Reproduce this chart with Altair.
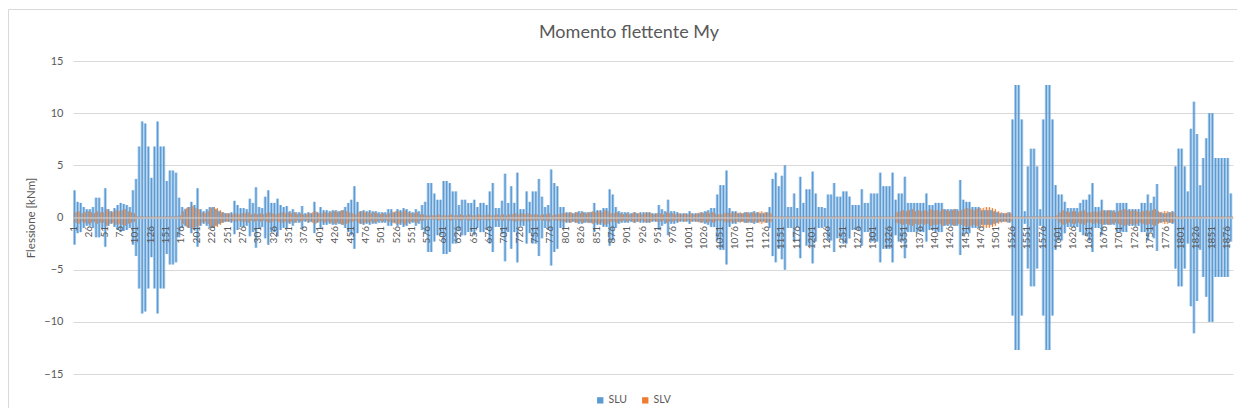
import altair as alt
import pandas as pd

N_CAT = 1886
BLOCK = 5  # categories summarised by one value (envelope)

# SLU envelope (|My| in kNm), one value per block of 5 categories
slu = [
    2.6, 1.5, 1.4, 1.0, 0.8,    # 1
    0.8, 1.0, 1.9, 1.9, 1.0,    # 26
    2.8, 0.8, 0.6, 0.9, 1.2,    # 51
    1.4, 1.3, 1.2, 1.0, 2.6,    # 76
    3.7, 6.8, 9.2, 9.0, 6.8,    # 101
    3.8, 6.8, 9.2, 6.8, 6.8,    # 126
    3.5, 4.5, 4.5, 4.3, 1.9,    # 151
    1.0, 0.8, 1.0, 1.5, 1.2,    # 176
    2.8, 0.8, 0.6, 0.8, 1.0,    # 201
    1.0, 0.8, 0.6, 0.5, 0.4,    # 226
    0.4, 0.5, 1.6, 1.2, 0.9,    # 251
    0.9, 0.8, 1.8, 1.4, 2.9,    # 276
    1.0, 0.9, 2.0, 2.6, 1.4,    # 301
    1.4, 1.8, 1.2, 1.0, 1.1,    # 326
    0.6, 0.8, 0.5, 0.5, 1.1,    # 351
    0.4, 0.5, 0.4, 1.5, 0.5,    # 376
    1.0, 0.7, 0.7, 0.6, 0.7,    # 401
    0.7, 0.6, 0.7, 1.0, 1.4,    # 426
    1.7, 3.0, 1.5, 0.6, 0.7,    # 451
    0.6, 0.7, 0.6, 0.6, 0.5,    # 476
    0.5, 0.5, 0.8, 0.8, 0.5,    # 501
    0.8, 0.7, 0.9, 0.8, 0.6,    # 526
    0.5, 0.8, 0.6, 1.2, 1.5,    # 551
    3.3, 3.3, 2.3, 1.7, 1.7,    # 576
    3.5, 3.5, 3.3, 2.5, 2.5,    # 601
    1.2, 1.7, 1.7, 1.4, 1.4,    # 626
    1.7, 1.0, 1.4, 1.4, 1.2,    # 651
    2.5, 3.3, 0.9, 0.9, 1.6,    # 676
    4.2, 1.4, 3.0, 1.4, 4.3,    # 701
    0.8, 0.8, 2.5, 1.5, 2.5,    # 726
    2.5, 3.7, 2.0, 1.0, 1.2,    # 751
    4.6, 3.3, 3.0, 1.0, 1.0,    # 776
    0.5, 0.5, 0.4, 0.5, 0.6,    # 801
    0.6, 0.5, 0.5, 0.5, 1.4,    # 826
    0.7, 0.7, 0.9, 0.9, 2.7,    # 851
    2.2, 1.0, 0.6, 0.5, 0.5,    # 876
    0.5, 0.4, 0.5, 0.4, 0.5,    # 901
    0.5, 0.5, 0.5, 0.4, 0.4,    # 926
    1.2, 0.8, 0.6, 1.7, 0.6,    # 951
    0.6, 0.5, 0.4, 0.4, 0.4,    # 976
    0.6, 0.4, 0.4, 0.4, 0.5,    # 1001
    0.6, 0.7, 0.9, 0.9, 2.2,    # 1026
    3.1, 3.1, 4.5, 0.9, 0.6,    # 1051
    0.6, 0.4, 0.4, 0.5, 0.5,    # 1076
    0.5, 0.6, 0.5, 0.4, 0.4,    # 1101
    0.5, 1.0, 3.7, 4.3, 3.0,    # 1126
    4.0, 5.0, 1.0, 1.0, 2.3,    # 1151
    0.9, 3.9, 1.4, 2.7, 2.7,    # 1176
    4.4, 2.3, 1.0, 1.0, 0.9,    # 1201
    2.2, 2.2, 3.3, 2.0, 2.0,    # 1226
    2.5, 2.5, 2.0, 1.2, 1.2,    # 1251
    1.2, 2.7, 1.4, 1.4, 2.3,    # 1276
    2.3, 2.3, 4.3, 3.0, 3.0,    # 1301
    3.0, 4.3, 1.7, 2.3, 2.3,    # 1326
    3.9, 1.4, 1.4, 1.4, 1.4,    # 1351
    1.4, 1.4, 2.3, 1.2, 1.2,    # 1376
    1.4, 1.4, 1.4, 0.8, 0.8,    # 1401
    0.8, 0.8, 0.8, 3.6, 1.7,    # 1426
    1.5, 1.5, 1.0, 1.0, 1.0,    # 1451
    0.7, 0.7, 0.7, 0.7, 0.6,    # 1476
    0.5, 0.4, 0.4, 0.4, 0.5,    # 1501
    9.4, 12.7, 12.7, 9.4, 0.6,  # 1526
    4.9, 6.6, 6.6, 4.9, 0.8,    # 1551
    9.4, 12.7, 12.7, 9.4, 3.1,  # 1576
    2.2, 2.2, 1.5, 0.9, 0.9,    # 1601
    0.9, 0.9, 1.4, 1.7, 1.7,    # 1626
    2.2, 3.3, 1.0, 1.0, 1.7,    # 1651
    0.7, 0.7, 0.7, 0.7, 1.4,    # 1676
    1.4, 1.4, 1.4, 0.8, 0.8,    # 1701
    0.8, 0.8, 1.4, 1.4, 2.2,    # 1726
    1.4, 2.0, 3.2, 0.5, 0.4,    # 1751
    0.4, 0.5, 0.6, 4.9, 6.6,    # 1776
    6.6, 4.9, 2.5, 8.5, 11.1,   # 1801
    8.0, 3.1, 5.7, 7.6, 10.0,   # 1826
    10.0, 5.7, 5.7, 5.7, 5.7,   # 1851
    5.7, 2.3,                   # 1876
]

# SLV envelope (|My| in kNm), same blocks
slv = [
    0.5, 0.6, 0.4, 0.5, 0.6,    # 1
    0.5, 0.4, 0.6, 0.5, 0.5,    # 26
    0.8, 0.6, 0.5, 0.7, 0.6,    # 51
    0.7, 0.8, 0.6, 0.5, 0.4,    # 76
    0.1, 0.1, 0.1, 0.1, 0.1,    # 101
    0.1, 0.1, 0.1, 0.1, 0.1,    # 126
    0.1, 0.1, 0.1, 0.1, 0.2,    # 151
    0.6, 0.9, 1.0, 1.1, 0.9,    # 176
    0.8, 0.5, 0.4, 0.6, 0.9,    # 201
    1.0, 0.9, 0.7, 0.5, 0.4,    # 226
    0.4, 0.3, 0.4, 0.3, 0.4,    # 251
    0.4, 0.5, 0.3, 0.4, 0.3,    # 276
    0.4, 0.3, 0.4, 0.5, 0.4,    # 301
    0.3, 0.4, 0.5, 0.4, 0.5,    # 326
    0.4, 0.5, 0.3, 0.4, 0.3,    # 351
    0.3, 0.4, 0.5, 0.6, 0.4,    # 376
    0.4, 0.5, 0.4, 0.5, 0.6,    # 401
    0.5, 0.6, 0.7, 0.6, 0.5,    # 426
    0.4, 0.3, 0.5, 0.6, 0.5,    # 451
    0.5, 0.4, 0.5, 0.4, 0.3,    # 476
    0.4, 0.3, 0.4, 0.5, 0.6,    # 501
    0.6, 0.5, 0.7, 0.5, 0.4,    # 526
    0.4, 0.5, 0.3, 0.3, 0.2,    # 551
    0.2, 0.2, 0.2, 0.3, 0.2,    # 576
    0.2, 0.2, 0.3, 0.2, 0.2,    # 601
    0.3, 0.2, 0.2, 0.3, 0.2,    # 626
    0.2, 0.3, 0.2, 0.2, 0.3,    # 651
    0.2, 0.2, 0.3, 0.2, 0.3,    # 676
    0.2, 0.3, 0.3, 0.4, 0.3,    # 701
    0.4, 0.3, 0.4, 0.3, 0.3,    # 726
    0.3, 0.2, 0.3, 0.3, 0.4,    # 751
    0.2, 0.3, 0.3, 0.4, 0.4,    # 776
    0.4, 0.5, 0.4, 0.5, 0.4,    # 801
    0.5, 0.4, 0.5, 0.6, 0.5,    # 826
    0.6, 0.5, 0.7, 0.6, 0.4,    # 851
    0.4, 0.5, 0.4, 0.3, 0.4,    # 876
    0.3, 0.4, 0.5, 0.4, 0.3,    # 901
    0.4, 0.5, 0.4, 0.3, 0.4,    # 926
    0.4, 0.3, 0.5, 0.4, 0.4,    # 951
    0.3, 0.4, 0.3, 0.4, 0.3,    # 976
    0.4, 0.3, 0.4, 0.5, 0.4,    # 1001
    0.5, 0.4, 0.5, 0.4, 0.3,    # 1026
    0.3, 0.4, 0.5, 0.4, 0.5,    # 1051
    0.4, 0.5, 0.4, 0.5, 0.4,    # 1076
    0.5, 0.4, 0.5, 0.6, 0.5,    # 1101
    0.5, 0.4, 0.1, 0.1, 0.1,    # 1126
    0.1, 0.1, 0.1, 0.1, 0.1,    # 1151
    0.1, 0.1, 0.1, 0.1, 0.1,    # 1176
    0.1, 0.1, 0.1, 0.1, 0.1,    # 1201
    0.1, 0.1, 0.1, 0.1, 0.1,    # 1226
    0.1, 0.1, 0.1, 0.1, 0.1,    # 1251
    0.1, 0.1, 0.1, 0.1, 0.1,    # 1276
    0.1, 0.1, 0.1, 0.1, 0.1,    # 1301
    0.1, 0.1, 0.5, 0.6, 0.7,    # 1326
    0.6, 0.7, 0.8, 0.6, 0.7,    # 1351
    0.6, 0.7, 0.6, 0.8, 0.7,    # 1376
    0.7, 0.6, 0.8, 0.7, 0.6,    # 1401
    0.7, 0.8, 0.6, 0.7, 0.8,    # 1426
    0.9, 0.8, 0.7, 0.8, 0.9,    # 1451
    0.9, 1.0, 1.0, 0.9, 0.8,    # 1476
    0.6, 0.5, 0.4, 0.5, 0.4,    # 1501
    0.1, 0.1, 0.1, 0.1, 0.1,    # 1526
    0.1, 0.1, 0.1, 0.1, 0.1,    # 1551
    0.1, 0.1, 0.1, 0.1, 0.2,    # 1576
    0.5, 0.7, 0.6, 0.5, 0.6,    # 1601
    0.6, 0.5, 0.6, 0.7, 0.5,    # 1626
    0.5, 0.6, 0.5, 0.6, 0.7,    # 1651
    0.6, 0.7, 0.6, 0.5, 0.6,    # 1676
    0.7, 0.8, 0.7, 0.6, 0.7,    # 1701
    0.6, 0.5, 0.6, 0.7, 0.6,    # 1726
    0.7, 0.8, 0.6, 0.5, 0.6,    # 1751
    0.6, 0.5, 0.5, 0.1, 0.1,    # 1776
    0.1, 0.1, 0.1, 0.1, 0.1,    # 1801
    0.1, 0.1, 0.1, 0.1, 0.1,    # 1826
    0.1, 0.1, 0.1, 0.1, 0.1,    # 1851
    0.1, 0.1,                   # 1876
]

tick_values = list(range(1, 1877, 25))
series = ["SLU", "SLV"]
colors = ["#5B9BD5", "#ED7D31"]
y_ticks = [-15, -10, -5, 0, 5, 10, 15]

rows = []
for name, amps in (("SLU", slu), ("SLV", slv)):
    for i, a in enumerate(amps):
        start = i * BLOCK + 1
        rows.append({
            "serie": name,
            "x0": start - 0.5,
            "x1": start + BLOCK - 0.5,
            "xc": start + (BLOCK - 1) / 2 + (0 if name == "SLU" else BLOCK / 2),
            "lo": -a,
            "hi": a,
        })
df = pd.DataFrame(rows)

xs = alt.Scale(domain=[0.5, N_CAT + 0.5], nice=False, zero=False)
ys = alt.Scale(domain=[-15, 15], nice=False)
cs = alt.Scale(domain=series, range=colors)

x_axis = alt.Axis(
    values=tick_values, format="d", labelAngle=-90, labelFontSize=10,
    labelColor="#595959", labelPadding=8, ticks=False, grid=False,
    domainColor="#D9D9D9", offset=-156.5, zindex=1, title=None,
    labelOverlap=False, labelFlush=False, labelBound=False)
y_axis = alt.Axis(
    values=y_ticks, title="Flessione [kNm]", titleFontSize=11.5,
    titleFontWeight="normal", titleColor="#595959", titlePadding=7,
    labelFontSize=11, labelColor="#595959", labelPadding=10,
    ticks=False, domain=False, gridColor="#D9D9D9", zindex=0)

df_slu = df[df.serie == "SLU"]
df_slv = df[df.serie == "SLV"]

legend = alt.Legend(
    title=None, orient="none", direction="horizontal", legendX=522,
    legendY=334, symbolType="square", symbolSize=40, symbolOpacity=1,
    labelFontSize=10.5, labelColor="#595959", columnPadding=12,
    labelOffset=3, padding=0)


def rect_layer(data, op):
    return alt.Chart(data).mark_rect(opacity=op).encode(
        x=alt.X("x0:Q", scale=xs, axis=x_axis), x2="x1:Q",
        y=alt.Y("lo:Q", scale=ys, axis=y_axis), y2="hi:Q",
        color=alt.Color("serie:N", scale=cs, legend=legend),
    )


def rule_layer(data, col, w):
    return alt.Chart(data).mark_rule(strokeWidth=w, color=col).encode(
        x=alt.X("xc:Q", scale=xs, axis=x_axis),
        y=alt.Y("lo:Q", scale=ys, axis=y_axis), y2="hi:Q")


fill_slu = rect_layer(df_slu, 0.45)
fill_slv = rect_layer(df_slv, 0.22)
lines_slu = rule_layer(df_slu, colors[0], 1.4)
lines_slv = rule_layer(df_slv, colors[1], 1.0)

border = alt.Chart(pd.DataFrame({"k": [0]})).mark_rect(
    fillOpacity=0, stroke="#D9D9D9", strokeWidth=1).encode(
    x=alt.value(-64.5), x2=alt.value(1400), y=alt.value(-51.5), y2=alt.value(600))

chart = alt.layer(border, fill_slu, fill_slv, lines_slu, lines_slv).properties(
    width=1160, height=313,
    title=alt.Title("Momento flettente My", fontSize=18, fontWeight="normal",
                    color="#595959", anchor="middle", frame="group", dx=-24, offset=-33),
    autosize=alt.AutoSizeParams(type="none"),
    padding={"left": 65, "top": 53, "right": 4, "bottom": 34},
).configure(font="Lato").configure_view(stroke=None).configure_axis(labelOverlap=False)

chart.save("out.html", embed_options={"renderer": "svg", "actions": False})
